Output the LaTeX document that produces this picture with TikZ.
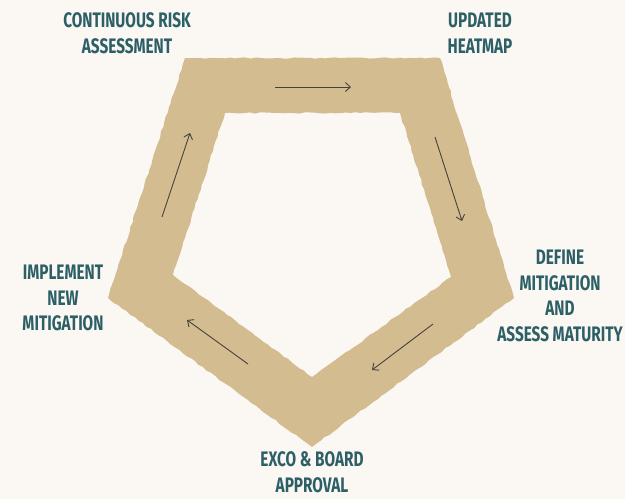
\documentclass[tikz,border=0pt]{standalone}
\usepackage{fontspec}
\setmainfont{Fira Sans}[FakeStretch=0.73]
\usetikzlibrary{arrows.meta,decorations.pathmorphing}

\definecolor{paper}{HTML}{FBF8F3}
\definecolor{sand}{HTML}{D4BC91}
\definecolor{teal}{HTML}{2D5F67}
\definecolor{ink}{HTML}{45413C}

\tikzset{
  steplabel/.style={align=center, inner sep=0pt, text=teal,
    font=\bfseries\fontsize{21}{25.5}\selectfont},
  flow/.style={draw=ink, line width=0.9pt, -{Straight Barb[length=5pt,width=9pt]}},
  rough/.style={decorate, decoration={random steps, segment length=5pt, amplitude=0.7pt}}
}

\begin{document}
\begin{tikzpicture}[x=1pt, y=-1pt]
% Page and background
\useasboundingbox[fill=paper] (0,0) rectangle (625,499);

% The pentagon band (outer and inner outline, even odd)
\fill[sand, even odd rule, rough]
  (185,58) -- (440,58) -- (514,298) -- (312,447) -- (108,298) -- cycle
  (225,113) -- (400,113) -- (451,277) -- (312,377) -- (173,275) -- cycle;

% Arrow ends
\coordinate (a1) at (275,87);  \coordinate (b1) at (351,87);
\coordinate (a2) at (435,137); \coordinate (b2) at (462,221);
\coordinate (a3) at (433,324); \coordinate (b3) at (372,370);
\coordinate (a4) at (248,364); \coordinate (b4) at (187,320);
\coordinate (a5) at (162,217); \coordinate (b5) at (190,133);

% Arrows round the cycle
\draw[flow] (a1) -- (b1);
\draw[flow] (a2) -- (b2);
\draw[flow] (a3) -- (b3);
\draw[flow] (a4) -- (b4);
\draw[flow] (a5) -- (b5);

% Labels
\node[steplabel] (assess) at (127,33) {CONTINUOUS RISK\\ASSESSMENT};
\node[steplabel] (heatmap) at (480,33) {UPDATED\\HEATMAP};
\node[steplabel] (define) at (560,296) {DEFINE\\MITIGATION\\AND\\ASSESS MATURITY};
\node[steplabel] (approval) at (312,472) {EXCO \& BOARD\\APPROVAL};
\node[steplabel] (implement) at (63,298) {IMPLEMENT\\NEW\\MITIGATION};
\end{tikzpicture}
\end{document}
